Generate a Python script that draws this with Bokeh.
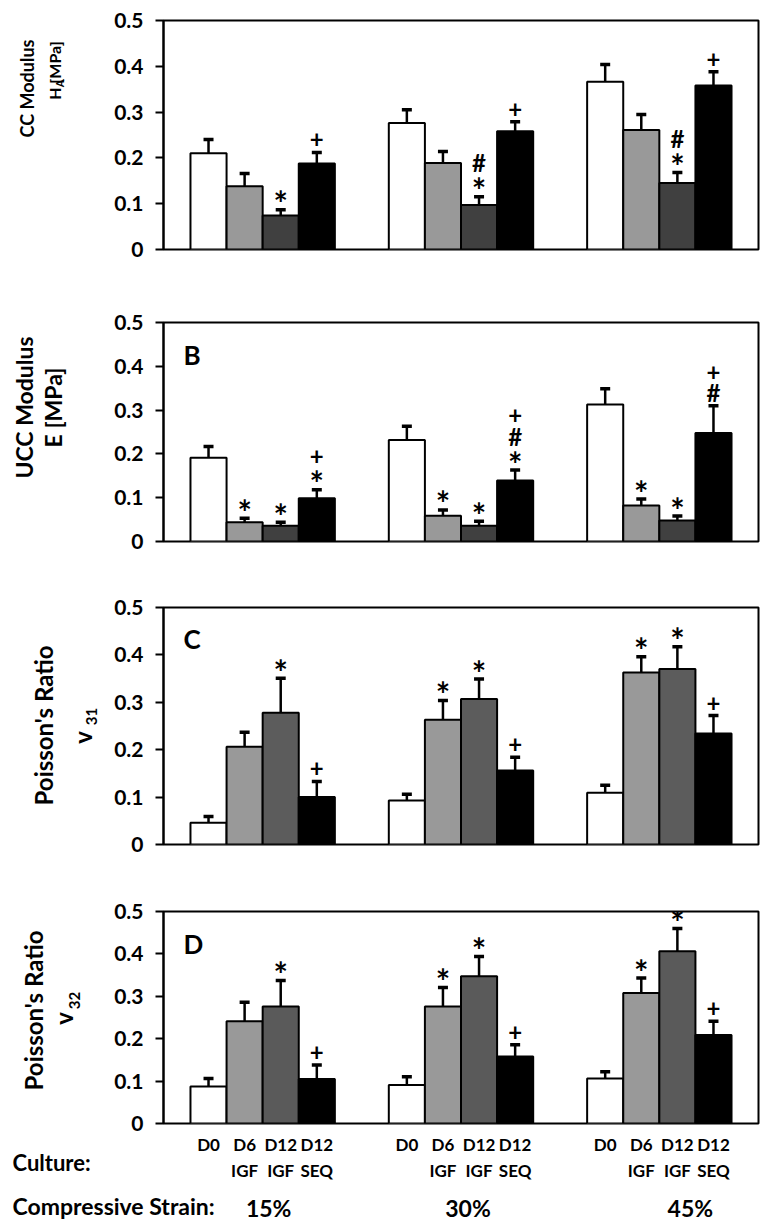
import numpy as np
from bokeh.plotting import figure
from bokeh.models import Range1d, FixedTicker, CustomJSTickFormatter, ColumnDataSource
from bokeh.layouts import column, row
from bokeh.embed import file_html
from bokeh.resources import INLINE
from bokeh.core.properties import value

# ---------------- data ----------------
strains = ["15%", "30%", "45%"]
culture_line1 = ["D0", "D6", "D12", "D12"]
culture_line2 = ["", "IGF", "IGF", "SEQ"]

# means / SD per culture (rows) and strain (columns)
ha_mean = [[0.210, 0.276, 0.366],
           [0.138, 0.189, 0.261],
           [0.074, 0.097, 0.145],
           [0.188, 0.258, 0.358]]
ha_sd = [[0.030, 0.029, 0.038],
         [0.028, 0.025, 0.034],
         [0.013, 0.018, 0.023],
         [0.024, 0.021, 0.030]]
ha_sig = [["", "", "*", "+"], ["", "", "*#", "+"], ["", "", "*#", "+"]]

e_mean = [[0.191, 0.232, 0.313],
          [0.044, 0.059, 0.082],
          [0.036, 0.036, 0.048],
          [0.099, 0.139, 0.248]]
e_sd = [[0.026, 0.031, 0.036],
        [0.009, 0.013, 0.015],
        [0.008, 0.010, 0.010],
        [0.019, 0.024, 0.062]]
e_sig = [["", "*", "*", "*+"], ["", "*", "*", "*#+"], ["", "*", "*", "#+"]]

v31_mean = [[0.046, 0.093, 0.109],
            [0.206, 0.263, 0.363],
            [0.278, 0.307, 0.370],
            [0.100, 0.156, 0.234]]
v31_sd = [[0.013, 0.013, 0.016],
          [0.031, 0.041, 0.033],
          [0.073, 0.042, 0.047],
          [0.033, 0.028, 0.038]]
v31_sig = [["", "", "*", "+"], ["", "*", "*", "+"], ["", "*", "*", "+"]]

v32_mean = [[0.087, 0.091, 0.106],
            [0.241, 0.276, 0.308],
            [0.276, 0.347, 0.406],
            [0.105, 0.158, 0.209]]
v32_sd = [[0.019, 0.019, 0.016],
          [0.045, 0.045, 0.035],
          [0.061, 0.047, 0.054],
          [0.033, 0.028, 0.032]]
v32_sig = [["", "", "*", "+"], ["", "*", "*", "+"], ["", "*", "*", "+"]]

y_ticks = [0, 0.1, 0.2, 0.3, 0.4, 0.5]

# ---------------- layout (page pixels) ----------------
FONT = "Lato"
PAGE_W = 776
TW = 100                     # width of the title strip left of each panel
FRAME_L, FRAME_R = 163, 758
BAR_W = 0.182
offsets = [-1.5 * BAR_W, -0.5 * BAR_W, 0.5 * BAR_W, 1.5 * BAR_W]
strain_dx = [6, 7, 31]       # label shift (px) from group centre


def px_to_x(px):
    return 0.5 + (px - FRAME_L) / (FRAME_R - FRAME_L) * 3.0


# title texts: (text, anchor x, anchor y, font px) -- rotated, centred, baseline "middle"
panels = [
    dict(mean=ha_mean, sd=ha_sd, sig=ha_sig, dark="#404040", letter=None,
         start=0, top=20, bottom=249, end=280,
         titles=[("CC Modulus", 26, 88, 18),
                 ("H", 54, 93, 16), ("A", 59, 83, 11), ("[MPa]", 54, 62, 16)]),
    dict(mean=e_mean, sd=e_sd, sig=e_sig, dark="#404040", letter=("B", 354),
         start=280, top=322, bottom=541, end=570,
         titles=[("UCC Modulus", 23, 407, 23), ("E [MPa]", 52, 407, 23)]),
    dict(mean=v31_mean, sd=v31_sd, sig=v31_sig, dark="#5c5c5c", letter=("C", 638),
         start=570, top=607, bottom=844, end=870,
         titles=[("Poisson's Ratio", 43, 725, 24),
                 ("v", 82, 737, 24), ("31", 91, 716, 15)]),
    dict(mean=v32_mean, sd=v32_sd, sig=v32_sig, dark="#5a5a5a", letter=("D", 943),
         start=870, top=911, bottom=1123, end=1134,
         titles=[("Poisson's Ratio", 33, 1010, 24),
                 ("v", 63, 1018, 24), ("32", 74, 1000, 15)]),
]

sym_size = {"*": "34px", "+": "24px", "#": "24px"}
sym_shift = {"*": 6, "+": 0, "#": 0}

rows = []
for pn in panels:
    h = pn["end"] - pn["start"]
    bt = pn["top"] - pn["start"]
    bb = pn["end"] - pn["bottom"]

    # ---- title strip (texts in page pixel units) ----
    tf = figure(width=TW, height=h, x_range=Range1d(0, TW), y_range=Range1d(pn["bottom"], pn["top"]),
                min_border_left=0, min_border_right=0, min_border_top=bt, min_border_bottom=bb,
                x_axis_location=None, y_axis_location=None, toolbar_location=None,
                output_backend="svg", outline_line_color=None,
                background_fill_color="white", border_fill_color="white")
    tf.grid.grid_line_color = None
    for (t, ax_, ay_, fs) in pn["titles"]:
        tf.text(x=[ax_], y=[ay_], text=[t], angle=np.pi / 2, text_align="center",
                text_baseline="middle", text_font=value(FONT), text_font_style="bold",
                text_font_size=f"{fs}px", text_color="black")

    # ---- panel ----
    p = figure(width=PAGE_W - TW, height=h, x_range=Range1d(0.5, 3.5), y_range=Range1d(0, 0.5),
               min_border_left=FRAME_L - TW, min_border_right=PAGE_W - FRAME_R,
               min_border_top=bt, min_border_bottom=bb,
               x_axis_location=None, toolbar_location=None, output_backend="svg",
               background_fill_color="white", border_fill_color="white")
    p.grid.grid_line_color = None
    p.outline_line_color = "black"
    p.outline_line_width = 2
    p.outline_line_alpha = 1.0

    ax = p.yaxis[0]
    ax.ticker = FixedTicker(ticks=y_ticks)
    ax.formatter = CustomJSTickFormatter(code="return tick < 1e-9 ? '0' : tick.toFixed(1);")
    ax.axis_line_width = 2
    ax.major_tick_line_width = 2
    ax.major_tick_out = 8
    ax.major_tick_in = 0
    ax.minor_tick_line_color = None
    ax.major_label_text_font = FONT
    ax.major_label_text_font_style = "bold"
    ax.major_label_text_font_size = "21px"
    ax.major_label_text_color = "black"
    ax.major_label_standoff = 12

    def py_to_y(py, pn=pn):
        return (pn["bottom"] - py) / (pn["bottom"] - pn["top"]) * 0.5

    colors = ["#ffffff", "#999999", pn["dark"], "#000000"]
    xs, tops, errs, cols = [], [], [], []
    sym = {k: dict(x=[], y=[], text=[], yoff=[]) for k in sym_size}
    for ci in range(4):
        for gi in range(3):
            x = gi + 1 + offsets[ci]
            m = pn["mean"][ci][gi]
            s = pn["sd"][ci][gi]
            xs.append(x); tops.append(m); errs.append(m + s); cols.append(colors[ci])
            for k, ch in enumerate(pn["sig"][gi][ci]):
                d = sym[ch]
                d["x"].append(x); d["y"].append(m + s); d["text"].append(ch)
                d["yoff"].append(-(13 + 21 * k) + sym_shift[ch])

    src = ColumnDataSource(dict(x=xs, top=tops, err=errs, color=cols))
    p.vbar(x="x", width=BAR_W, top="top", bottom=0, fill_color="color",
           line_color="black", line_width=2, source=src)
    p.segment(x0="x", y0="top", x1="x", y1="err", line_color="black", line_width=2.5, source=src)
    p.scatter(x="x", y="err", marker="dash", size=10, line_color="black", line_width=3.5, source=src)

    for ch, d in sym.items():
        if d["x"]:
            p.text(x="x", y="y", text="text", y_offset="yoff", text_align="center",
                   text_baseline="middle", text_font=value(FONT), text_font_style="bold",
                   text_font_size=sym_size[ch], text_color="black", source=ColumnDataSource(d))

    if pn["letter"]:
        p.text(x=[px_to_x(183)], y=[py_to_y(pn["letter"][1])], text=[pn["letter"][0]],
               text_align="left", text_baseline="middle", text_font=value(FONT),
               text_font_style="bold", text_font_size="26px", text_color="black")
    rows.append(row(tf, p, spacing=0))

# ---------------- bottom labels ----------------
b_top, b_bot = 1134, 1222
pb = figure(width=PAGE_W, height=b_bot - b_top,
            x_range=Range1d(px_to_x(0), px_to_x(PAGE_W)),
            y_range=Range1d(b_bot, b_top), min_border=0,
            x_axis_location=None, y_axis_location=None, toolbar_location=None,
            output_backend="svg", outline_line_color=None,
            background_fill_color="white", border_fill_color="white")
pb.grid.grid_line_color = None

lx, ly, lt = [], [], []
for gi in range(3):
    for ci in range(4):
        x = gi + 1 + offsets[ci]
        lx.append(x); ly.append(1144); lt.append(culture_line1[ci])
        if culture_line2[ci]:
            lx.append(x); ly.append(1170); lt.append(culture_line2[ci])
pb.text(x=lx, y=ly, text=lt, text_align="center", text_baseline="middle",
        text_font=value(FONT), text_font_style="bold", text_font_size="17px", text_color="black")
pb.text(x=[px_to_x(12)], y=[1162], text=["Culture:"],
        text_align="left", text_baseline="middle", text_font=value(FONT),
        text_font_style="bold", text_font_size="22px", text_color="black")
pb.text(x=[px_to_x(12)], y=[1205], text=["Compressive Strain:"],
        text_align="left", text_baseline="middle", text_font=value(FONT),
        text_font_style="bold", text_font_size="23px", text_color="black")
sx_px = (FRAME_R - FRAME_L) / 3.0
pb.text(x=[g + 1 + strain_dx[g] / sx_px for g in range(3)], y=[1207] * 3, text=strains,
        text_align="center", text_baseline="middle", text_font=value(FONT),
        text_font_style="bold", text_font_size="23px", text_color="black")

layout = column(*rows, spacing=0)
open("out.html", "w").write(file_html([layout, pb], INLINE))
